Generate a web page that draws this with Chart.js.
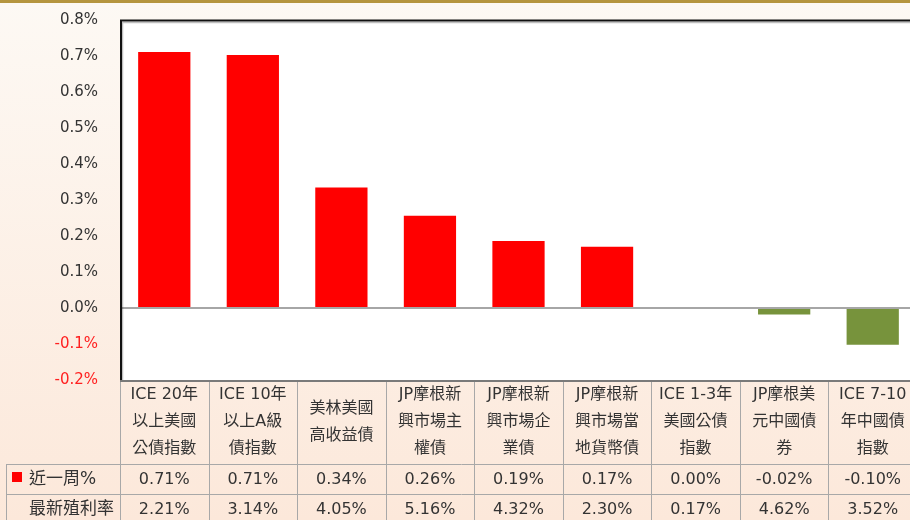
<!DOCTYPE html>
<html>
<head>
<meta charset="utf-8">
<script src="https://cdn.jsdelivr.net/npm/chart.js@4"></script>
<style>
html, body { margin: 0; padding: 0; width: 910px; height: 520px; overflow: hidden; }
body { background: linear-gradient(#fdf9f4, #fce8da); position: relative; }
#goldBar { position: absolute; left: 0; top: 0; width: 910px; height: 3px; background: #b5953f; z-index: 2; }
#wrap { position: absolute; left: 0; top: 0; width: 918px; height: 520px; }
</style>
</head>
<body>
<div id="goldBar"></div>
<div id="wrap"><canvas id="chartWeek" width="918" height="520"></canvas></div>
<script>
// 類別 (每格分行顯示)
const categories = [
    ['ICE 20年', '以上美國', '公債指數'],
    ['ICE 10年', '以上A級', '債指數'],
    ['美林美國', '高收益債'],
    ['JP摩根新', '興市場主', '權債'],
    ['JP摩根新', '興市場企', '業債'],
    ['JP摩根新', '興市場當', '地貨幣債'],
    ['ICE 1-3年', '美國公債', '指數'],
    ['JP摩根美', '元中國債', '券'],
    ['ICE 7-10', '年中國債', '指數']
];
// 近一周% (柱狀高度)
const weekChange = [0.711, 0.703, 0.335, 0.256, 0.186, 0.170, 0.00, -0.018, -0.102];
// 表格數值
const weekTable = ['0.71%', '0.71%', '0.34%', '0.26%', '0.19%', '0.17%', '0.00%', '-0.02%', '-0.10%'];
const yieldTable = ['2.21%', '3.14%', '4.05%', '5.16%', '4.32%', '2.30%', '0.17%', '4.62%', '3.52%'];
const rowLabels = ['近一周%', '最新殖利率'];
const yTicks = [-0.2, -0.1, 0, 0.1, 0.2, 0.3, 0.4, 0.5, 0.6, 0.7, 0.8];

const FONT = '"DejaVu Sans", "Noto Sans CJK TC", sans-serif';
const TEXT = '#333333';

// 白底 + 外框
const plotFrame = {
    id: 'plotFrame',
    beforeDraw(chart) {
        const { ctx, chartArea: a } = chart;
        ctx.save();
        ctx.fillStyle = '#ffffff';
        ctx.fillRect(a.left, a.top, a.right - a.left, a.bottom - a.top);
        ctx.restore();
    },
    afterDatasetsDraw(chart) {
        const { ctx, chartArea: a } = chart;
        ctx.save();
        ctx.strokeStyle = 'rgba(0,0,0,0.25)';
        ctx.lineWidth = 1.5;
        ctx.beginPath();
        ctx.moveTo(a.left + 2.5, a.bottom);
        ctx.lineTo(a.left + 2.5, a.top + 2.5);
        ctx.lineTo(a.right, a.top + 2.5);
        ctx.stroke();
        ctx.strokeStyle = '#111111';
        ctx.lineWidth = 2;
        ctx.beginPath();
        ctx.moveTo(a.left + 1, a.bottom);
        ctx.lineTo(a.left + 1, a.top + 0.5);
        ctx.lineTo(a.right, a.top + 0.5);
        ctx.stroke();
        ctx.restore();
    }
};

// 資料表
const dataTable = {
    id: 'dataTable',
    afterDraw(chart) {
        const { ctx, chartArea: a } = chart;
        const x = chart.scales.x;
        const w = (a.right - a.left) / categories.length;
        const top = a.bottom, row1 = 464, row2 = 494, bottom = 530;
        ctx.save();

        // 格線
        ctx.strokeStyle = '#a8a8a8';
        ctx.lineWidth = 1;
        ctx.beginPath();
        for (let i = 0; i <= categories.length; i++) {
            const lx = Math.round(a.left + i * w) + 0.5;
            ctx.moveTo(lx, top);
            ctx.lineTo(lx, bottom);
        }
        ctx.moveTo(6.5, row1);
        ctx.lineTo(6.5, bottom);
        ctx.moveTo(6, row1 + 0.5);
        ctx.lineTo(a.right, row1 + 0.5);
        ctx.moveTo(6, row2 + 0.5);
        ctx.lineTo(a.right, row2 + 0.5);
        ctx.stroke();

        ctx.strokeStyle = '#7a7a7a';
        ctx.lineWidth = 2;
        ctx.beginPath();
        ctx.moveTo(a.left, top + 1);
        ctx.lineTo(a.right, top + 1);
        ctx.stroke();

        ctx.font = '16px ' + FONT;
        ctx.fillStyle = TEXT;
        ctx.textAlign = 'center';
        ctx.textBaseline = 'middle';
        const lineH = 27;
        const mid = (top + row1) / 2;
        categories.forEach((lines, i) => {
            const cx = x.getPixelForValue(i);
            const y0 = mid - (lines.length - 1) * lineH / 2;
            lines.forEach((t, j) => ctx.fillText(t, cx, y0 + j * lineH));
            ctx.fillText(weekTable[i], cx, (row1 + row2) / 2 + 1);
            ctx.fillText(yieldTable[i], cx, 510);
        });

        // 左側列名
        ctx.font = '17px ' + FONT;
        ctx.textAlign = 'left';
        ctx.fillStyle = '#ff0000';
        ctx.fillRect(12, 472, 10, 10);
        ctx.fillStyle = TEXT;
        ctx.fillText(rowLabels[0], 29, (row1 + row2) / 2 + 1);
        ctx.fillText(rowLabels[1], 29, 510);
        ctx.restore();
    }
};

new Chart(document.getElementById('chartWeek').getContext('2d'), {
    type: 'bar',
    data: {
        labels: categories.map(c => c.join('')),
        datasets: [{
            label: rowLabels[0],
            data: weekChange,
            backgroundColor: weekChange.map(v => v < 0 ? '#77933c' : '#ff0000'),
            borderWidth: 0,
            categoryPercentage: 1,
            barPercentage: 0.59
        }]
    },
    options: {
        responsive: false,
        animation: false,
        layout: { padding: { top: 20, bottom: 140, left: 0, right: 1 } },
        plugins: { legend: { display: false }, tooltip: { enabled: false } },
        scales: {
            x: { display: false },
            y: {
                min: -0.2,
                max: 0.8,
                afterFit(scale) { scale.width = 120; },
                afterBuildTicks(scale) { scale.ticks = yTicks.map(v => ({ value: v })); },
                border: { display: false },
                grid: {
                    drawTicks: true,
                    tickLength: 22,
                    tickColor: 'rgba(0,0,0,0)',
                    lineWidth: 2,
                    color: c => (c.tick && Math.abs(c.tick.value) < 1e-9) ? '#a6a6a6' : 'rgba(0,0,0,0)'
                },
                ticks: {
                    padding: 0,
                    font: { family: FONT, size: 15 },
                    color: c => c.tick.value < -1e-9 ? '#ff2020' : TEXT,
                    callback: v => v.toFixed(1) + '%'
                }
            }
        }
    },
    plugins: [plotFrame, dataTable]
});
</script>
</body>
</html>
